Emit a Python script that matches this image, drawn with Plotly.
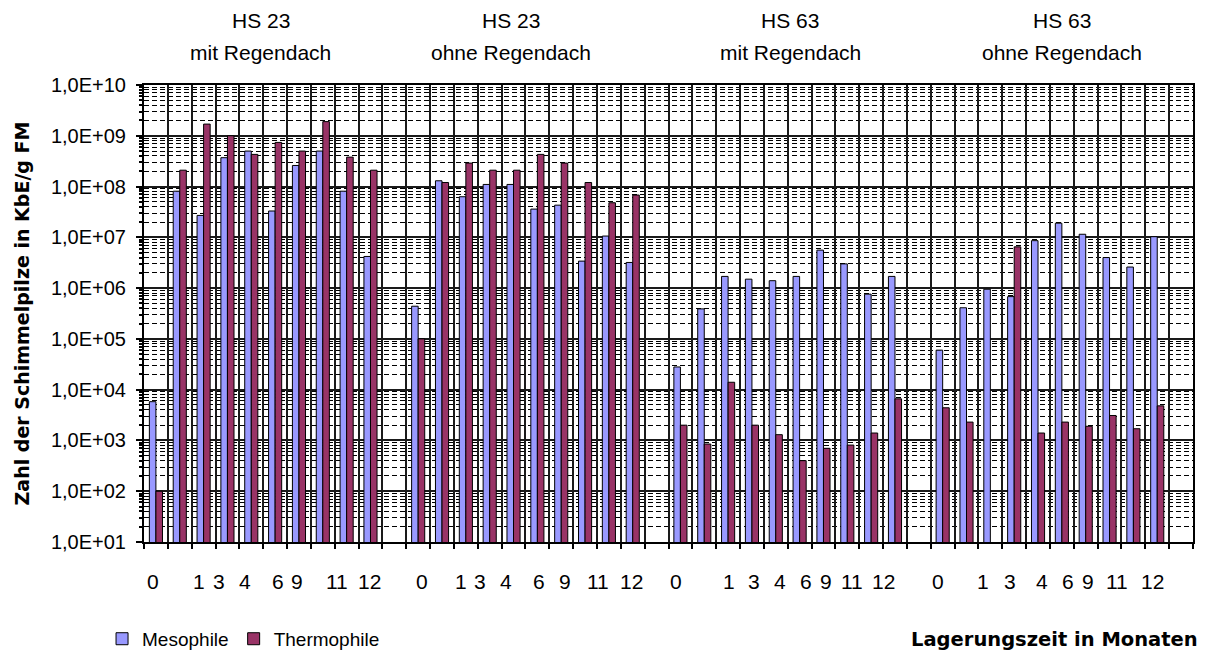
import plotly.graph_objects as go

# ---------------- data ----------------
group_line1 = ["HS 23", "HS 23", "HS 63", "HS 63"]
group_line2 = ["mit Regendach", "ohne Regendach", "mit Regendach", "ohne Regendach"]

month_labels = ["0", "1", "3", "4", "6", "9", "11", "12"]

mesophile = [
    [5.8e3, 8.1e7, 2.7e7, 3.7e8, 5.0e8, 3.3e7, 2.6e8, 5.0e8, 8.1e7, 4.2e6],
    [4.4e5, 1.3e8, 6.3e7, 1.1e8, 1.1e8, 3.6e7, 4.3e7, 3.4e6, 1.06e7, 3.2e6],
    [2.8e4, 3.9e5, 1.7e6, 1.5e6, 1.4e6, 1.7e6, 5.6e6, 3.0e6, 7.6e5, 1.7e6],
    [6.0e4, 4.1e5, 9.5e5, 6.8e5, 8.6e6, 1.9e7, 1.15e7, 4.0e6, 2.6e6, 1.03e7],
]
thermophile = [
    [1.0e2, 2.1e8, 1.7e9, 1.0e9, 4.3e8, 7.4e8, 5.0e8, 1.9e9, 3.8e8, 2.1e8],
    [1.0e5, 1.2e8, 2.9e8, 2.1e8, 2.1e8, 4.3e8, 2.9e8, 1.2e8, 4.8e7, 6.8e7],
    [2.0e3, 8.5e2, 1.4e4, 2.0e3, 1.3e3, 4.0e2, 7.0e2, 8.1e2, 1.4e3, 6.6e3],
    [4.4e3, 2.3e3, None, 6.5e6, 1.4e3, 2.3e3, 1.9e3, 3.1e3, 1.7e3, 4.8e3],
]

y_tickvals = [1e1, 1e2, 1e3, 1e4, 1e5, 1e6, 1e7, 1e8, 1e9, 1e10]
y_ticktext = ["1,0E+01", "1,0E+02", "1,0E+03", "1,0E+04", "1,0E+05",
              "1,0E+06", "1,0E+07", "1,0E+08", "1,0E+09", "1,0E+10"]

# ---------------- layout helpers (positions, not data) ----------------
SLOTS_PER_GROUP = 11          # 10 bars + 1 empty separator slot
label_offsets = [
    [-0.13, 1.82, 2.64, 3.73, 5.10, 5.92, 7.60, 8.97],
    [0.15, 1.79, 2.60, 3.70, 5.07, 6.17, 7.53, 8.94],
    [-0.19, 2.03, 3.08, 4.18, 5.27, 6.09, 7.18, 8.50],
    [-0.19, 1.69, 2.81, 4.18, 5.24, 6.09, 7.31, 8.82],
]
title_offsets = [4.4, 3.9, 4.6, 5.0]

MESO_COLOR = "#9999FF"
THERMO_COLOR = "#993366"
TXT_FONT = "Liberation Sans, Arial, sans-serif"
BOLD_FONT = "DejaVu Sans, Verdana, sans-serif"

xs, meso_y, thermo_y = [], [], []
for g in range(len(group_line1)):
    for i in range(len(mesophile[g])):
        xs.append(g * SLOTS_PER_GROUP + i)
        meso_y.append(mesophile[g][i])
        thermo_y.append(thermophile[g][i])

fig = go.Figure()
fig.add_trace(go.Bar(x=xs, y=meso_y, name="Mesophile",
                     marker=dict(color=MESO_COLOR, line=dict(color="#000000", width=1))))
fig.add_trace(go.Bar(x=xs, y=thermo_y, name="Thermophile",
                     marker=dict(color=THERMO_COLOR, line=dict(color="#000000", width=1))))

n_slots = len(group_line1) * SLOTS_PER_GROUP - 1
slot_edges = [k - 0.5 for k in range(n_slots + 2)]

minor_vals = [m * 10 ** e for e in range(1, 10) for m in range(2, 10)]

annotations = []
for g in range(len(group_line1)):
    cx = g * SLOTS_PER_GROUP + title_offsets[g]
    annotations.append(dict(x=cx, y=1.142, xref="x", yref="paper", text=group_line1[g],
                            showarrow=False, font=dict(family=TXT_FONT, size=21, color="#000"),
                            xanchor="center", yanchor="middle"))
    annotations.append(dict(x=cx, y=1.072, xref="x", yref="paper", text=group_line2[g],
                            showarrow=False, font=dict(family=TXT_FONT, size=21, color="#000"),
                            xanchor="center", yanchor="middle"))
    for lab, off in zip(month_labels, label_offsets[g]):
        annotations.append(dict(x=g * SLOTS_PER_GROUP + off, y=-0.0875, xref="x", yref="paper",
                                text=lab, showarrow=False,
                                font=dict(family=TXT_FONT, size=21, color="#000"),
                                xanchor="center", yanchor="middle"))

annotations.append(dict(x=1.0067, y=-0.214, xref="paper", yref="paper",
                        text="<b>Lagerungszeit in Monaten</b>", showarrow=False,
                        font=dict(family=BOLD_FONT, size=19.5, color="#000"),
                        xanchor="right", yanchor="middle"))

fig.update_layout(
    width=1200, height=647,
    margin=dict(l=136, r=15, t=77, b=113, autoexpand=False),
    paper_bgcolor="white", plot_bgcolor="white",
    barmode="group", bargap=0.45, bargroupgap=0.0,
    showlegend=True,
    legend=dict(orientation="h", x=-0.04, y=-0.212, xanchor="left", yanchor="middle",
                font=dict(family=TXT_FONT, size=19, color="#000"),
                itemwidth=30, tracegroupgap=0, bgcolor="rgba(0,0,0,0)"),
    annotations=annotations,
    xaxis=dict(type="linear", range=[-0.5, n_slots + 0.5],
               tickmode="array", tickvals=slot_edges,
               showticklabels=False, ticks="outside", ticklen=5, tickcolor="#000", tickwidth=2,
               showgrid=True, gridcolor="#1a1a1a", gridwidth=2,
               showline=True, linecolor="#000", linewidth=2, mirror=True,
               zeroline=False),
    yaxis=dict(type="log", range=[1, 10],
               tickmode="array", tickvals=y_tickvals, ticktext=y_ticktext,
               ticks="outside", ticklen=6, tickcolor="#000", tickwidth=2, ticklabelstandoff=6,
               tickfont=dict(family=TXT_FONT, size=20, color="#000"),
               showgrid=True, gridcolor="#1a1a1a", gridwidth=2,
               minor=dict(tickmode="array", tickvals=minor_vals, showgrid=True,
                          gridcolor="#000", gridwidth=1, griddash="5px,3px",
                          ticks="outside", ticklen=3, tickcolor="#000"),
               showline=True, linecolor="#000", linewidth=2, mirror=True,
               title=dict(text="<b>Zahl der Schimmelpilze in KbE/g FM</b>",
                          font=dict(family=BOLD_FONT, size=19, color="#000"),
                          standoff=16),
               zeroline=False),
)

fig.write_html("out.html")
